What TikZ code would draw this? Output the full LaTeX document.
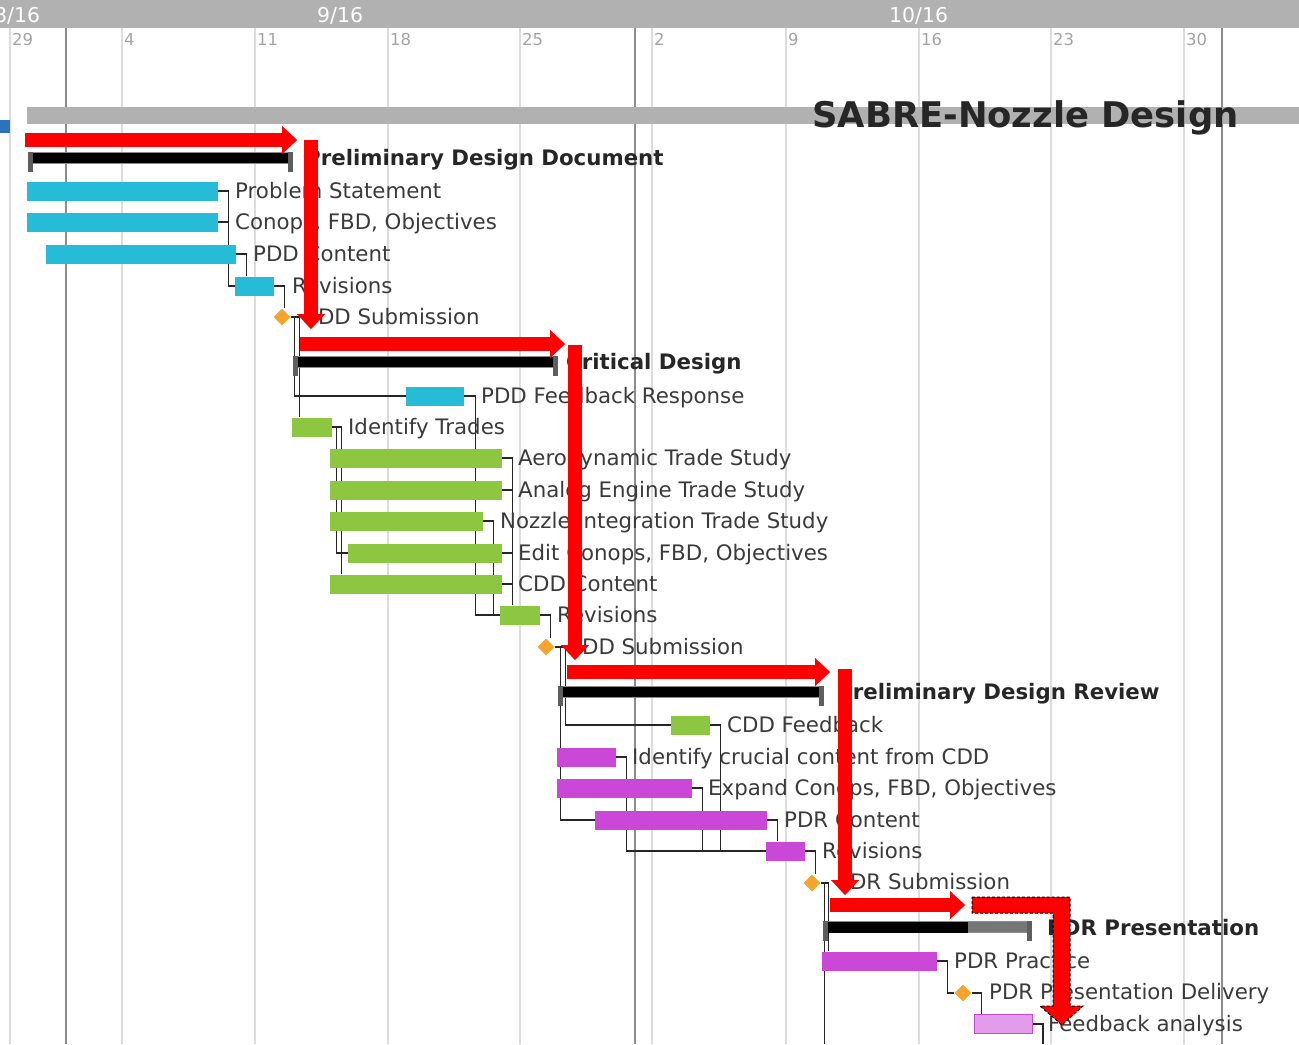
\documentclass[tikz,border=0pt]{standalone}
\usepackage{fontspec}
\setmainfont{DejaVu Sans}
\usetikzlibrary{arrows.meta,shapes.geometric}
\definecolor{ink}{HTML}{3A3A3A}
\definecolor{inkB}{HTML}{262626}
\definecolor{headgray}{HTML}{B1B1B1}
\definecolor{daygray}{HTML}{A3A3A3}
\definecolor{gridA}{HTML}{DCDCDC}
\definecolor{gridB}{HTML}{8C8C8C}
\definecolor{cyanA}{HTML}{26BCD7}
\definecolor{greenA}{HTML}{8DC641}
\definecolor{magA}{HTML}{CB47D8}
\definecolor{magB}{HTML}{E39CEA}
\definecolor{orangeA}{HTML}{F6A42C}
\definecolor{redA}{HTML}{FF0000}
\definecolor{tickgray}{HTML}{5E5E5E}
\definecolor{blueA}{HTML}{2E72B8}
\pgfdeclarelayer{bg}
\pgfsetlayers{bg,main}

\begin{document}
\begin{tikzpicture}[
  x=1bp, y=-1bp,
  font=\fontsize{21.4}{25}\selectfont,
  task/.style={inner sep=0pt, minimum height=19bp, anchor=west},
  w/.style={minimum width=#1bp},
  pddbar/.style={task, fill=cyanA},
  cddbar/.style={task, fill=greenA},
  pdrbar/.style={task, fill=magA},
  summary/.style={inner sep=0pt, minimum height=11bp, anchor=west,
    fill=black, draw=gridB, line width=0.8bp},
  tick/.style={fill=tickgray},
  milestone/.style={diamond, fill=orangeA, inner sep=0pt, minimum size=17bp},
  lbl/.style={anchor=west, inner sep=0pt, text=ink, text height=15.6bp, text depth=0pt},
  grp/.style={lbl, text=inkB, font=\fontsize{21.4}{25}\selectfont\bfseries},
  daylbl/.style={lbl, text=daygray, text height=12bp, font=\fontsize{16.5}{18}\selectfont},
  monthlbl/.style={lbl, text=white, text height=15bp, font=\fontsize{20.5}{22}\selectfont},
  dep/.style={draw=inkB, line width=1.3bp},
  week/.style={draw=gridA, line width=1.5bp},
  month/.style={draw=gridB, line width=2bp},
  redarrow/.style={draw=redA, line width=14bp,
    -{Triangle[length=15bp,width=28bp,line width=0.01bp]}}
]
\path[use as bounding box] (0,0) rectangle (1299,1044);
\clip (0,0) rectangle (1299,1044);
\coordinate (chartbot) at (0,1044);

% timeline header
\fill[headgray] (0,0) rectangle (1299,28);
\node[monthlbl] (m8) at (-6,15) {8/16};
\node[monthlbl] (m9) at (317,15) {9/16};
\node[monthlbl] (m10) at (889,15) {10/16};
\foreach \x/\d in {10/29,122/4,255/11,388/18,520/25,652/2,786/9,919/16,1051/23,1184/30}
  \node[daylbl] (day\d) at (\x+2,39) {\d};

\begin{pgfonlayer}{bg}
  \foreach \x in {10,122,255,388,520,652,786,919,1051,1184}
    \draw[week] (\x,28) -- (\x,1044);
  \foreach \x in {65.5,635,1222}
    \draw[month] (\x,28) -- (\x,1044);
\end{pgfonlayer}

\fill[blueA] (0,120) rectangle (10,133);

% project bar
\fill[headgray] (27,107) rectangle (1299,124);
\node[lbl, text=inkB, text height=26bp, font=\fontsize{35.5}{40}\selectfont\bfseries]
  (title) at (812,114) {SABRE-Nozzle Design};

% Preliminary Design Document
\node[summary, w=264] (pddsum) at (28,158) {};
\node[pddbar, w=191] (ps) at (27,191) {};
\node[pddbar, w=191] (conops) at (27,222) {};
\node[pddbar, w=190] (pddc) at (46,254) {};
\node[pddbar, w=39] (rev1) at (235,286) {};
\node[milestone] (ms1) at (282,317) {};

% Critical Design
\node[summary, w=264] (cdsum) at (293,362) {};
\node[pddbar, w=58] (pddfb) at (406,396) {};
\node[cddbar, w=40] (idtr) at (292,427) {};
\node[cddbar, w=172] (aero) at (330,458) {};
\node[cddbar, w=172] (analog) at (330,490) {};
\node[cddbar, w=153] (nozzle) at (330,521) {};
\node[cddbar, w=154] (edit) at (348,553) {};
\node[cddbar, w=172] (cddc) at (330,584) {};
\node[cddbar, w=40] (rev2) at (500,615) {};
\node[milestone] (ms2) at (546,647) {};

% Preliminary Design Review
\node[summary, w=265] (pdrsum) at (558,692) {};
\node[cddbar, w=39] (cddfb) at (671,725) {};
\node[pdrbar, w=59] (crucial) at (557,757) {};
\node[pdrbar, w=135] (expand) at (557,788) {};
\node[pdrbar, w=172] (pdrc) at (595,820) {};
\node[pdrbar, w=39] (rev3) at (766,851) {};
\node[milestone] (ms3) at (812,883) {};

% PDR Presentation
\node[summary, w=208, fill=tickgray!85] (prsum) at (823,927) {};
\node[summary, w=145, draw=none] (prdone) at (823,927) {};
\node[pdrbar, w=115] (prac) at (822,961) {};
\node[milestone] (ms4) at (963,993) {};
\node[task, w=58, fill=magB, draw=magA, line width=1bp] (fba) at (974,1024) {};

% summary end ticks
\foreach \s in {pddsum,cdsum,pdrsum,prsum} {
  \fill[tick] (\s.north west) rectangle ++(5,20);
  \fill[tick] (\s.north east) rectangle ++(-5,20);
}

% dependencies
\begin{pgfonlayer}{bg}
  \draw[dep] (ps.east) -- ++(10,0) |- (rev1.west);
  \draw[dep] (conops.east) -- ++(10,0);
  \draw[dep] (pddc.east) -- ++(10,0) coordinate (h1) -- (h1 |- rev1.north);
  \draw[dep] (rev1.east) -- ++(10,0) coordinate (h2) -- (h2 |- ms1.north);

  \draw[dep] (ms1.east) -- ++(9,0) coordinate (h3) -- (h3 |- idtr.north);
  \draw[dep] (ms1.east) ++(4,0) |- (pddfb.west);
  \draw[dep] (idtr.east) -- ++(9,0) coordinate (h4) -- (h4 |- cddc.north);
  \draw[dep] (idtr.east) ++(4,0) |- (edit.west);
  \draw[dep] (aero.east) -- ++(10,0) coordinate (h5) -- (h5 |- rev2.north);
  \draw[dep] (analog.east) -- ++(10,0);
  \draw[dep] (edit.east) -- ++(10,0);
  \draw[dep] (cddc.east) -- ++(10,0);
  \draw[dep] (nozzle.east) -- ++(10,0) |- (rev2.west);
  \draw[dep] (pddfb.east) -- ++(11,0) |- (rev2.west);
  \draw[dep] (rev2.east) -- ++(10,0) coordinate (h6) -- (h6 |- ms2.north);

  \draw[dep] (ms2.east) -- ++(11,0) |- (cddfb.west);
  \draw[dep] (ms2.east) ++(6,0) |- (pdrc.west);
  \draw[dep] (crucial.east) -- ++(10,0) |- (rev3.west);
  \draw[dep] (expand.east) -- ++(10,0) coordinate (h7) -- (h7 |- rev3.west);
  \draw[dep] (cddfb.east) -- ++(10,0) coordinate (h8) -- (h8 |- rev3.west);
  \draw[dep] (pdrc.east) -- ++(10,0) coordinate (h9) -- (h9 |- rev3.north);
  \draw[dep] (rev3.east) -- ++(10,0) coordinate (h10) -- (h10 |- ms3.north);

  \draw[dep] (ms3.east) -- ++(8,0) coordinate (h11) -- (h11 |- prac.north);
  \draw[dep] (ms3.east) ++(4,0) coordinate (h12) -- (h12 |- chartbot);
  \draw[dep] (prac.east) -- ++(10,0) |- (ms4.west);
  \draw[dep] (ms4.east) -- ++(10,0) coordinate (h13) -- (h13 |- fba.north);
  \draw[dep] (fba.east) -- ++(10,0) coordinate (h14) -- (h14 |- chartbot);
\end{pgfonlayer}

% task labels
\node[grp] (pddsumlbl) at (305,158) {Preliminary Design Document};
\node[lbl] (pslbl) at (235,191) {Problem Statement};
\node[lbl] (conopslbl) at (235,222) {Conops, FBD, Objectives};
\node[lbl] (pddclbl) at (253,254) {PDD Content};
\node[lbl] (rev1lbl) at (292,286) {Revisions};
\node[lbl] (ms1lbl) at (305,317) {PDD Submission};

\node[grp] (cdsumlbl) at (566,362) {Critical Design};
\node[lbl] (pddfblbl) at (481,396) {PDD Feedback Response};
\node[lbl] (idtrlbl) at (348,427) {Identify Trades};
\node[lbl] (aerolbl) at (518,458) {Aerodynamic Trade Study};
\node[lbl] (analoglbl) at (518,490) {Analog Engine Trade Study};
\node[lbl] (nozzlelbl) at (500,521) {Nozzle Integration Trade Study};
\node[lbl] (editlbl) at (518,553) {Edit Conops, FBD, Objectives};
\node[lbl] (cddclbl) at (518,584) {CDD Content};
\node[lbl] (rev2lbl) at (557,615) {Revisions};
\node[lbl] (ms2lbl) at (567,647) {CDD Submission};

\node[grp] (pdrsumlbl) at (837,692) {Preliminary Design Review};
\node[lbl] (cddfblbl) at (727,725) {CDD Feedback};
\node[lbl] (cruciallbl) at (632,757) {Identify crucial content from CDD};
\node[lbl] (expandlbl) at (708,788) {Expand Conops, FBD, Objectives};
\node[lbl] (pdrclbl) at (784,820) {PDR Content};
\node[lbl] (rev3lbl) at (822,851) {Revisions};
\node[lbl] (ms3lbl) at (837,882) {PDR Submission};

\node[grp] (prsumlbl) at (1047,928) {PDR Presentation};
\node[lbl] (praclbl) at (954,961) {PDR Practice};
\node[lbl] (ms4lbl) at (989,992) {PDR Presentation Delivery};
\node[lbl] (fbalbl) at (1048,1024) {Feedback analysis};

% red flow arrows
\coordinate (ra) at (25,140);
\coordinate (rb) at (297,140);
\coordinate (rc) at (311,140);
\coordinate (rd) at (311,329);
\coordinate (re) at (300,344);
\coordinate (rf) at (565,344);
\coordinate (rg) at (575,345);
\coordinate (rh) at (575,660);
\coordinate (ri) at (567,672);
\coordinate (rj) at (830,672);
\coordinate (rk) at (845,669);
\coordinate (rl) at (845,895);
\coordinate (rm) at (830,905);
\coordinate (rn) at (965,905);
\draw[redarrow] (ra) -- (rb);
\draw[redarrow] (rc) -- (rd);
\draw[redarrow] (re) -- (rf);
\draw[redarrow] (rg) -- (rh);
\draw[redarrow] (ri) -- (rj);
\draw[redarrow] (rk) -- (rl);
\draw[redarrow] (rm) -- (rn);
\filldraw[fill=redA, draw=black, densely dashed, line width=1bp]
  (972,897) -- (1070,897) -- (1070,1006) -- (1083,1006) -- (1062,1025)
  -- (1040,1006) -- (1053,1006) -- (1053,913) -- (972,913) -- cycle;

\end{tikzpicture}
\end{document}
